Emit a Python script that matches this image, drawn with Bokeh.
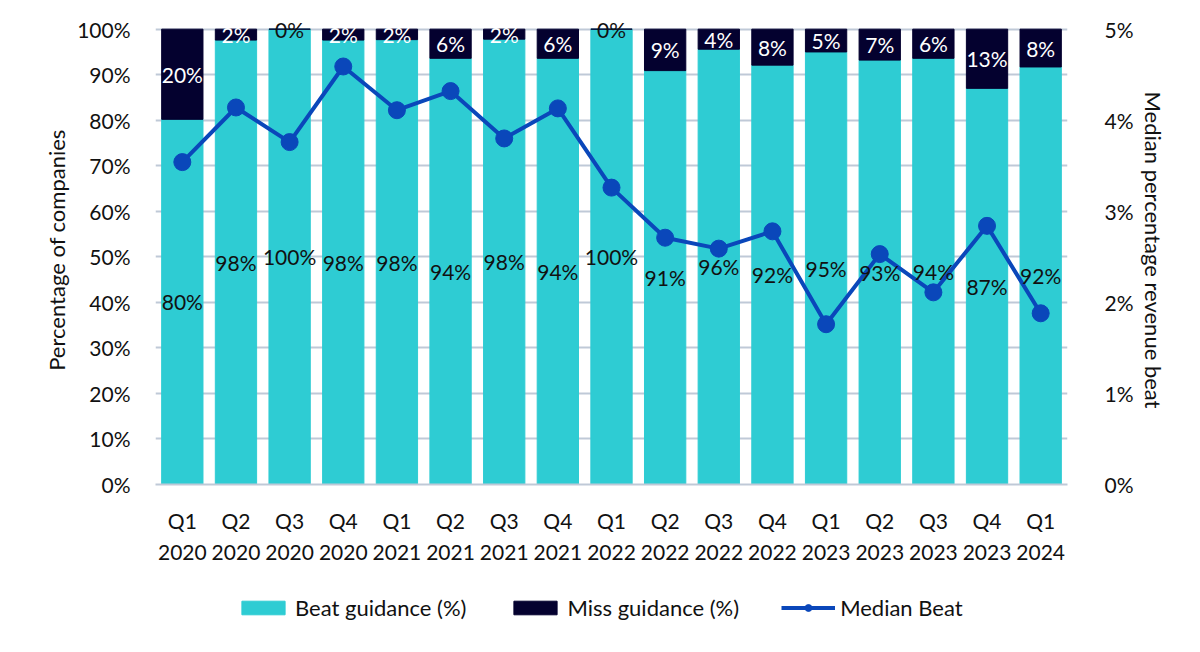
from bokeh.plotting import figure
from bokeh.layouts import column
from bokeh.models import (ColumnDataSource, Range1d, LinearAxis,
                          PrintfTickFormatter, Legend)
from bokeh.core.properties import value
from bokeh.embed import file_html
from bokeh.resources import INLINE

quarters = ["Q1", "Q2", "Q3", "Q4", "Q1", "Q2", "Q3", "Q4", "Q1",
            "Q2", "Q3", "Q4", "Q1", "Q2", "Q3", "Q4", "Q1"]
years = ["2020", "2020", "2020", "2020", "2021", "2021", "2021", "2021", "2022",
         "2022", "2022", "2022", "2023", "2023", "2023", "2023", "2024"]
beat = [80.2, 97.6, 100, 97.6, 97.7, 93.6, 97.8, 93.6, 100,
        90.9, 95.6, 92.1, 95.0, 93.2, 93.6, 87.0, 91.7]
miss = [19.8, 2.4, 0, 2.4, 2.3, 6.4, 2.2, 6.4, 0,
        9.1, 4.4, 7.9, 5.0, 6.8, 6.4, 13.0, 8.3]
median_beat = [3.54, 4.14, 3.76, 4.59, 4.11, 4.32, 3.80, 4.13, 3.26,
               2.71, 2.59, 2.78, 1.76, 2.53, 2.11, 2.84, 1.88]

FONT = "Lato"
FS = "21px"
CYAN = "#2ECCD3"
NAVY = "#04012F"
BLUE = "#0A47BA"
GRID = "#BFC9D7"
INK = "#111111"

idx = list(range(len(quarters)))

source = ColumnDataSource(dict(x=idx, beat=beat, miss=miss, median=median_beat))

# a little headroom above 100% so the top labels are not clipped
p = figure(width=1184, height=575, x_range=Range1d(-0.5, len(idx) - 0.5),
           y_range=Range1d(0, 103), output_backend="svg", toolbar_location=None,
           x_axis_location=None, y_axis_location=None)
p.min_border_left = 155
p.min_border_right = 117
p.min_border_top = 15
p.min_border_bottom = 91
p.outline_line_color = None
p.extra_y_ranges = {"right": Range1d(0, 5.15)}

p.xgrid.grid_line_color = None
p.ygrid.grid_line_color = GRID
p.ygrid.grid_line_width = 2
p.ygrid.ticker = list(range(0, 101, 10))

p.vbar_stack(["beat", "miss"], x="x", width=0.77, color=[CYAN, NAVY],
             source=source)
p.line("x", "median", source=source, y_range_name="right",
       color=BLUE, line_width=4)
p.scatter("x", "median", source=source, y_range_name="right",
          size=17, color=BLUE)

# data labels
beat_y = [b / 2 for b in beat]
miss_y = [b + m / 2 for b, m in zip(beat, miss)]
p.text(idx, beat_y, text=["%d%%" % round(b) for b in beat],
       text_font=value(FONT), text_font_size=FS, text_color=INK,
       text_align="center", text_baseline="middle")
p.text(idx, miss_y, text=["%d%%" % round(m) for m in miss],
       text_font=value(FONT), text_font_size=FS,
       text_color=[INK if m == 0 else "white" for m in miss],
       text_align="center", text_baseline="middle")

left = LinearAxis(axis_label="Percentage of companies")
left.ticker = list(range(0, 101, 10))
left.formatter = PrintfTickFormatter(format="%d%%")
right = LinearAxis(y_range_name="right", axis_label="Median percentage revenue beat")
right.ticker = [0, 1, 2, 3, 4, 5]
right.formatter = PrintfTickFormatter(format="%d%%")
for ax in (left, right):
    ax.axis_line_color = None
    ax.major_tick_line_color = None
    ax.minor_tick_line_color = None
    ax.major_label_text_font = FONT
    ax.major_label_text_font_size = FS
    ax.major_label_text_color = INK
    ax.axis_label_text_font = FONT
    ax.axis_label_text_font_size = "22px"
    ax.axis_label_text_font_style = "normal"
    ax.axis_label_text_color = INK
left.major_label_standoff = 19
left.axis_label_standoff = 4
right.major_label_standoff = 31
right.axis_label_standoff = 3
p.add_layout(left, "left")
p.add_layout(right, "right")

qaxis = LinearAxis(ticker=idx, major_label_overrides=dict(zip(idx, quarters)))
yaxis = LinearAxis(ticker=idx, major_label_overrides=dict(zip(idx, years)))
qaxis.axis_line_color = GRID
qaxis.axis_line_width = 2
qaxis.major_label_standoff = 17
yaxis.axis_line_color = None
yaxis.major_label_standoff = 3
for ax in (qaxis, yaxis):
    ax.major_tick_line_color = None
    ax.minor_tick_line_color = None
    ax.major_label_text_font = FONT
    ax.major_label_text_font_size = FS
    ax.major_label_text_color = INK
p.add_layout(qaxis, "below")
p.add_layout(yaxis, "below")

# legend lives in its own strip under the chart; its sample renderers sit
# outside the strip's ranges so only the legend shows
lg = figure(width=1184, height=61, x_range=Range1d(0, 1), y_range=Range1d(0, 1),
            output_backend="svg", toolbar_location=None,
            x_axis_location=None, y_axis_location=None, min_border=0)
lg.min_border_left = 155
lg.min_border_right = 117
lg.outline_line_color = None
lg.grid.visible = False
r_beat = lg.vbar(x=[-5], top=[-5], width=0.5, color=CYAN)
r_miss = lg.vbar(x=[-5], top=[-5], width=0.5, color=NAVY)
r_line = lg.line(x=[-5, -4], y=[-5, -5], color=BLUE, line_width=4)
r_dot = lg.scatter(x=[-5], y=[-5], size=17, color=BLUE)

legend = Legend(items=[("Beat guidance (%)", [r_beat]),
                       ("Miss guidance (%)", [r_miss]),
                       ("Median Beat", [r_line, r_dot])],
                orientation="horizontal", location=(81, 15))
legend.label_text_font = FONT
legend.label_text_font_size = "22px"
legend.label_text_color = INK
legend.glyph_width = 54
legend.glyph_height = 17
legend.label_standoff = 5
legend.spacing = 42
legend.border_line_color = None
legend.background_fill_alpha = 0
legend.margin = 0
legend.padding = 0
lg.add_layout(legend, "center")

page = column(p, lg, spacing=0)
open("out.html", "w").write(file_html(page, INLINE))
